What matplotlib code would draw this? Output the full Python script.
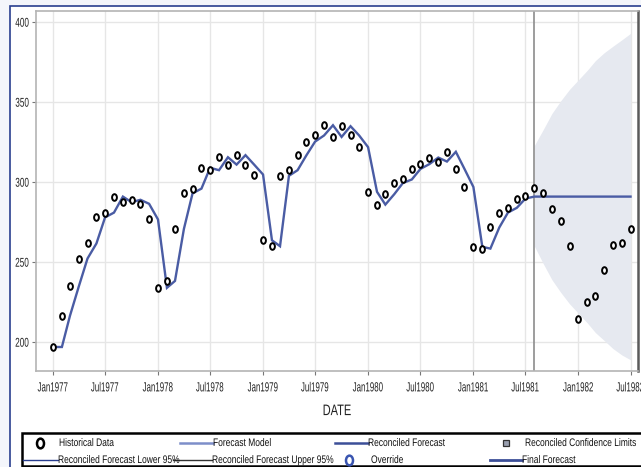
import matplotlib
matplotlib.use("Agg")
import matplotlib.pyplot as plt
import matplotlib.dates as mdates
from matplotlib import font_manager as fm
from matplotlib.patheffects import AbstractPathEffect
from matplotlib.path import Path
from matplotlib.transforms import Affine2D
from matplotlib.patches import Rectangle
import pandas as pd

# ---- data ----
dates = pd.date_range("1977-01-01", periods=67, freq="MS")
historical = [197, 216.5, 235, 252.3, 261.7, 278, 281, 291, 287.5, 289, 286.5, 276.7,
              234, 238.3, 270.8, 293, 296, 309, 307.5, 315.6, 311, 316.9, 311, 304.8,
              263.7, 260, 304, 307.5, 316.9, 325.4, 329.2, 335.6, 328.3, 335, 329.2, 321.9,
              294, 286, 292.5, 299.5, 301.7, 308.3, 311.3, 315.4, 312.9, 319, 308.3, 297,
              259.6, 258.5, 271.7, 281, 284, 289.8, 291.3, 296.3, 293.3, 283.1, 276, 260.2,
              214.4, 225, 228.8, 245.2, 261, 262.3, 270.8]
model = [197, 197, 216.5, 235, 252.3, 261.7, 278, 281, 291, 287.5, 289, 286.5,
         276.7, 234, 238.3, 270.8, 293, 296, 309, 307.5, 315.6, 311, 316.9, 311,
         304.8, 263.7, 260, 304, 307.5, 316.9, 325.4, 329.2, 335.6, 328.3, 335, 329.2,
         321.9, 294, 286, 292.5, 299.5, 301.7, 308.3, 311.3, 315.4, 312.9, 319, 308.3,
         297, 259.6, 258.5, 271.7, 281, 284, 289.8]
final_forecast = [291, 291, 291, 291, 291, 291, 291, 291, 291, 291, 291, 291]
upper95 = [323, 333, 343, 351, 358, 364, 370, 376, 381, 385, 389, 393]
lower95 = [260, 249, 239, 231, 224, 218, 212, 206, 201, 196, 192, 189]
forecast_start = "1981-08-01"
y_ticks = [200, 250, 300, 350, 400]
x_tick_dates = pd.date_range("1977-01-01", "1982-07-01", freq="6MS")

LINE = "#4a5ca4"
BAND = "#e6e9f0"
FAMILY = "Liberation Sans"


class Condense(AbstractPathEffect):
    """Draw glyphs horizontally condensed, keeping the text's alignment."""

    def __init__(self, sx, anchor=0.0):
        super().__init__()
        self.sx = sx
        self.anchor = anchor  # 0 left, 0.5 center, 1 right

    def draw_path(self, renderer, gc, tpath, affine, rgbFace=None):
        w = tpath.get_extents().x1
        shift = self.anchor * (1 - self.sx) * w
        squeeze = Affine2D().scale(self.sx, 1.0).translate(shift, 0)
        renderer.draw_path(gc, tpath, squeeze + affine, rgbFace)


def fp(size):
    return fm.FontProperties(family=FAMILY, size=size)


fig = plt.figure(figsize=(6.41, 4.67), dpi=100)
fig.patch.set_facecolor("white")

# outer chart frame
fig.patches.append(Rectangle((0, 0), 1, 1, transform=fig.transFigure,
                             facecolor="#f4f6fb", edgecolor="none", zorder=-3))
fig.patches.append(Rectangle((10 / 641, -0.1), 1.2, (467 - 6) / 467 + 0.1,
                             transform=fig.transFigure, facecolor="white",
                             edgecolor="#2a3f8f", lw=1.2, zorder=-2))

ax = fig.add_axes([36 / 641, 1 - 371 / 467, (638 - 36) / 641, (371 - 11) / 467])

fc_dates = dates[len(model):]
ax.fill_between(fc_dates, lower95, upper95, color=BAND, lw=0, zorder=1)
ax.axvline(pd.Timestamp(forecast_start), color="#8c8c8c", lw=1.2, zorder=2)

line_dates = dates[:len(model) + len(final_forecast)]
ax.plot(line_dates, model + final_forecast, color=LINE, lw=1.7, zorder=3,
        solid_joinstyle="miter")

ring = Path.unit_circle().transformed(Affine2D().scale(0.72, 1.0))
ax.plot(dates, historical, ls="none", marker=ring, ms=4.8, mfc="white",
        mec="black", mew=1.4, zorder=4)

ax.set_ylim(182, 407)
left = mdates.date2num(pd.Timestamp("1977-01-01")) - 59
right = mdates.date2num(pd.Timestamp("1982-07-01")) + 26
ax.set_xlim(left, right)
ax.set_yticks(y_ticks)
ax.set_xticks(x_tick_dates)
ax.xaxis.set_major_formatter(mdates.DateFormatter("%b%Y"))
ax.tick_params(axis="both", colors="#777777", labelcolor="#222222",
               length=3.2, width=0.8)
ax.tick_params(axis="x", pad=5)
ax.tick_params(axis="y", pad=1.8)
for t in ax.xaxis.get_major_ticks():
    t.label1.set_fontproperties(fp(9.5))
    t.label1.set_path_effects([Condense(0.6, 0.5)])
for t in ax.yaxis.get_major_ticks():
    t.label1.set_fontproperties(fp(9.2))
    t.label1.set_path_effects([Condense(0.64, 1.0)])
ax.grid(True, color="#e6e6e6", lw=1.0, zorder=0)
ax.set_axisbelow(True)
for side in ("left", "bottom", "top"):
    ax.spines[side].set_color("#b4b4b4")
    ax.spines[side].set_linewidth(1.2)
ax.spines["right"].set_color("#5a5a5a")
ax.spines["right"].set_linewidth(1.8)
xl = ax.set_xlabel("DATE", fontproperties=fp(11), color="#222222", labelpad=7)
xl.set_path_effects([Condense(0.72, 0.5)])

# ---- legend box ----
lg = fig.add_axes([0, 0, 1, 1], facecolor="none")
lg.set_xlim(0, 641)
lg.set_ylim(467, 0)
lg.axis("off")
lg.add_patch(Rectangle((22, 432.5), 700, 33.5, facecolor="white", edgecolor="black",
                       lw=1.8, clip_on=True))
r1, r2 = 443, 460
txt = dict(fontproperties=fp(7.9), va="center", ha="left", color="#111111",
           path_effects=[Condense(0.77, 0.0)])
lg.plot([40], [r1], ls="none", marker=ring, ms=7, mfc="white", mec="black", mew=1.8)
lg.text(59, r1, "Historical Data", **txt)
lg.plot([180, 213], [r1, r1], color="#7d8ec9", lw=1.8)
lg.text(213, r1, "Forecast Model", **txt)
lg.plot([335, 368], [r1, r1], color="#3c4f98", lw=1.8)
lg.text(368, r1, "Reconciled Forecast", **txt)
lg.plot([506], [r1], ls="none", marker="s", ms=5, mfc="#9aa0b0", mec="#333333", mew=0.9)
lg.text(525, r1, "Reconciled Confidence Limits", **txt)
lg.plot([23, 58], [r2, r2], color="#2a3f8f", lw=1.0)
lg.text(58, r2, "Reconciled Forecast Lower 95%", **txt)
lg.plot([173, 212], [r2, r2], color="#333333", lw=1.0)
lg.text(212, r2, "Reconciled Forecast Upper 95%", **txt)
lg.plot([349], [r2], ls="none", marker=ring, ms=7, mfc="white", mec="#3a55b0", mew=1.8)
lg.text(371, r2, "Override", **txt)
lg.plot([490, 522], [r2, r2], color="#3c4f98", lw=2.0)
lg.text(522, r2, "Final Forecast", **txt)

fig.savefig("out.png", dpi=100)
